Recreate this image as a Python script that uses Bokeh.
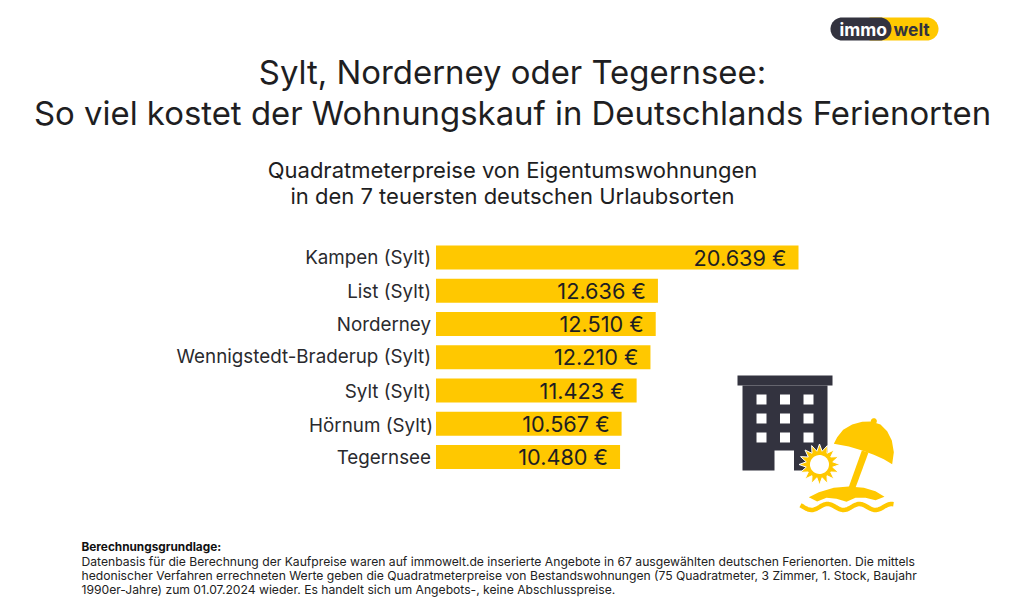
import numpy as np
from bokeh.core.properties import value
from bokeh.embed import file_html
from bokeh.models import ColumnDataSource, Range1d
from bokeh.plotting import figure
from bokeh.resources import INLINE

towns = ["Kampen (Sylt)", "List (Sylt)", "Norderney", "Wennigstedt-Braderup (Sylt)",
         "Sylt (Sylt)", "Hörnum (Sylt)", "Tegernsee"]
prices = [20639, 12636, 12510, 12210, 11423, 10567, 10480]
title_lines = ["Sylt, Norderney oder Tegernsee:",
               "So viel kostet der Wohnungskauf in Deutschlands Ferienorten"]
subtitle_lines = ["Quadratmeterpreise von Eigentumswohnungen",
                  "in den 7 teuersten deutschen Urlaubsorten"]
note_head = "Berechnungsgrundlage:"
note_lines = [
    "Datenbasis für die Berechnung der Kaufpreise waren auf immowelt.de inserierte Angebote in 67 ausgewählten deutschen Ferienorten. Die mittels",
    "hedonischer Verfahren errechneten Werte geben die Quadratmeterpreise von Bestandswohnungen (75 Quadratmeter, 3 Zimmer, 1. Stock, Baujahr",
    "1990er-Jahre) zum 01.07.2024 wieder. Es handelt sich um Angebots-, keine Abschlusspreise.",
]

YELLOW = "#FFC800"
DARK = "#33333F"
INK = "#1E1E22"
FONT = value("Inter")

W, H = 1016, 600
EUR_PER_PX = 20639 / 362.5
BAR_LEFT, ROW0, ROW_STEP = 435.5, 257, 33.25

p = figure(width=W, height=H, output_backend="svg", toolbar_location=None,
           x_range=Range1d((0 - BAR_LEFT) * EUR_PER_PX, (W - BAR_LEFT) * EUR_PER_PX),
           y_range=Range1d((H - ROW0) / ROW_STEP, (0 - ROW0) / ROW_STEP),
           min_border=0, outline_line_color=None, x_axis_type=None, y_axis_type=None,
           background_fill_color="white", border_fill_color="white")
p.grid.visible = False
p.extra_x_ranges["px"] = Range1d(0, W)
p.extra_y_ranges["px"] = Range1d(H, 0)
PX = dict(x_range_name="px", y_range_name="px")

rows = list(range(len(towns)))
town_dx = [-5, -5, -5, -5, -5, -3, -5]
town_dy = [-0.5, 0.5, 0, -1, 0.5, 1.5, 0]
src = ColumnDataSource(dict(
    y=rows, town=towns, price=prices, zero=[0] * len(towns), dx=town_dx, dy=town_dy,
    lab=[f"{v:,}".replace(",", ".") + " €" for v in prices],
))
p.hbar(y="y", left="zero", right="price", height=24 / ROW_STEP, source=src,
       fill_color=YELLOW, line_color=None)
p.text(x="price", y="y", text="lab", source=src, x_offset=-12, y_offset=0,
       text_align="right", text_baseline="middle", text_color=INK,
       text_font=FONT, text_font_size="21.7px")
p.text(x="zero", y="y", text="town", source=src, x_offset="dx", y_offset="dy",
       text_align="right", text_baseline="middle", text_color="#2A2A2E",
       text_font=FONT, text_font_size="18.8px")


def px_text(x, y, s, size, align="center", weight="normal", color=INK, **kw):
    p.text(x=[x], y=[y], text=[s], text_align=align, text_baseline="middle",
           text_color=color, text_font=FONT, text_font_size=size,
           text_font_style=weight, **PX, **kw)


px_text(512, 71, title_lines[0], "32.9px")
px_text(512, 112, title_lines[1], "32.9px")
px_text(512, 169, subtitle_lines[0], "22px")
px_text(512, 195, subtitle_lines[1], "22px")
px_text(81, 546.5, note_head, "11.8px", align="left", weight="bold", color="#111")
for yy, line in zip((561, 575, 589), note_lines):
    px_text(81, yy, line, "12.15px", align="left", color="#222")


# Logo
def pill(x0, x1, y0, y1):
    r = (y1 - y0) / 2
    t = np.linspace(-np.pi / 2, np.pi / 2, 24)
    xs = np.r_[x1 - r + r * np.cos(t), x0 + r - r * np.cos(t)]
    ys = np.r_[(y0 + y1) / 2 + r * np.sin(t), (y0 + y1) / 2 - r * np.sin(t)]
    return xs, ys


xs, ys = pill(860, 938, 17, 40)
p.patch(xs, ys, fill_color=YELLOW, line_color=None, **PX)
xs, ys = pill(830, 891, 17, 40)
p.patch(xs, ys, fill_color=DARK, line_color=None, **PX)
px_text(839, 29, "immo", "17.5px", align="left", weight="bold", color="white")
px_text(893, 29, "welt", "17.4px", align="left", weight="bold", color=DARK)

# Building
p.quad(left=[737], right=[832], top=[375], bottom=[385], fill_color=DARK, line_color=None, **PX)
p.quad(left=[742], right=[827], top=[385], bottom=[470], fill_color=DARK, line_color=None, **PX)
wx = [756, 779.5, 803]
wy = [394, 413, 432]
p.quad(left=[a for a in wx for _ in wy], right=[a + 10 for a in wx for _ in wy],
       top=[b for _ in wx for b in wy], bottom=[b + 10 for _ in wx for b in wy],
       fill_color="white", line_color=None, **PX)
p.quad(left=[774], right=[793.5], top=[450], bottom=[471], fill_color="white", line_color=None, **PX)

# Sun
cx, cy = 819, 464
ang = np.linspace(0, 2 * np.pi, 32, endpoint=False)
rad = np.where(np.arange(32) % 2 == 0, 20.5, 13.5)
p.patch(cx + rad * np.cos(ang), cy + rad * np.sin(ang), fill_color=YELLOW,
        line_color="white", line_width=1, **PX)
t = np.linspace(0, 2 * np.pi, 48)
p.patch(cx + 9.5 * np.cos(t), cy + 9.5 * np.sin(t), fill_color="white", line_color=None, **PX)

# Umbrella
uz = np.array([(340, 250), (350, 230), (368, 208), (395, 192), (425, 184), (452, 183), (480, 192),
               (500, 212), (514, 240), (520, 275), (515, 311), (490, 296), (460, 283),
               (425, 270), (385, 258)], float)
p.patch(720 + uz[:, 0] / 3, 360 + uz[:, 1] / 3, fill_color=YELLOW, line_color=None, **PX)
p.patch(720 + 460 / 3 + 3 * np.cos(t), 360 + 182 / 3 + 3 * np.sin(t), fill_color=YELLOW, line_color=None, **PX)
pz = np.array([(424, 270), (444, 276), (405, 382), (384, 382)], float)
p.patch(720 + pz[:, 0] / 3, 360 + pz[:, 1] / 3, fill_color=YELLOW, line_color=None, **PX)

# Island and wave
iz = np.array([(265, 410), (295, 395), (340, 382), (385, 378), (430, 382), (465, 392), (492, 409),
               (465, 419), (435, 412), (405, 412), (378, 424), (348, 415), (318, 412), (290, 423)], float)
p.patch(720 + iz[:, 0] / 3, 360 + iz[:, 1] / 3, fill_color=YELLOW, line_color=None, **PX)
wxs = np.linspace(800, 893, 70)
wys = 506.5 - 3 * np.cos((wxs - 827) / 32 * 2 * np.pi)
p.line(wxs, wys, line_color=YELLOW, line_width=4.5, **PX)

open("out.html", "w").write(file_html(p, INLINE))
